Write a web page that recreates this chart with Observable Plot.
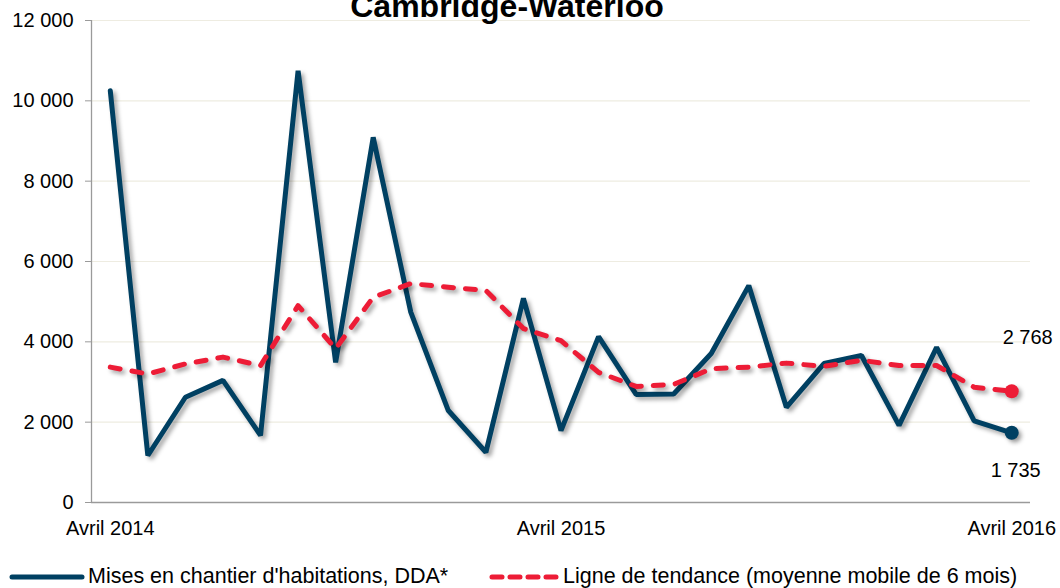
<!DOCTYPE html>
<html>
<head>
<meta charset="utf-8">
<script src="https://cdn.jsdelivr.net/npm/d3@7"></script>
<script src="https://cdn.jsdelivr.net/npm/@observablehq/plot@0.6"></script>
<style>
  body { margin: 0; background: #fff; font-family: "Liberation Sans", Arial, sans-serif; }
  #wrap { position: relative; width: 1060px; height: 588px; overflow: hidden; }
  #title { position: absolute; left: 0; top: 0; }
  #legend { position: absolute; left: 0; top: 550px; }
  svg.chart g[aria-label="line"] path, svg.chart g[aria-label="dot"] circle { filter: drop-shadow(3px 3px 2px rgba(0,0,0,0.35)); }
</style>
</head>
<body>
<div id="wrap">
  <div id="chart"></div>
  <svg id="title" width="1060" height="24"></svg>
  <svg id="legend" width="1060" height="38"></svg>
</div>
<script>
const months = [
  "Avril 2014","Mai 2014","Juin 2014","Juillet 2014","Août 2014","Septembre 2014","Octobre 2014","Novembre 2014","Décembre 2014",
  "Janvier 2015","Février 2015","Mars 2015","Avril 2015","Mai 2015","Juin 2015","Juillet 2015","Août 2015","Septembre 2015",
  "Octobre 2015","Novembre 2015","Décembre 2015","Janvier 2016","Février 2016","Mars 2016","Avril 2016"
];
const starts = [10250,1170,2620,3040,1670,10750,3490,9090,4740,2290,1250,5080,1790,4130,2690,2700,3710,5400,2370,3460,3660,1920,3860,2030,1735];
const trend  = [3370,3200,3450,3620,3410,4900,3830,5110,5450,5360,5280,4330,4030,3240,2890,2940,3330,3370,3470,3390,3540,3410,3410,2870,2768];
const xTickLabels = ["Avril 2014","Avril 2015","Avril 2016"];
const yTicks = [0,2000,4000,6000,8000,10000,12000];
const seriesNames = ["Mises en chantier d'habitations, DDA*","Ligne de tendance (moyenne mobile de 6 mois)"];
const titleText = "Cambridge-Waterloo";

const blue = "#004062";
const red = "#ED1C36";
const fmt = v => d3.format(",")(v).replace(/,/g, "\u00a0");

const rowsStarts = starts.map((v, i) => ({i, month: months[i], v}));
const rowsTrend = trend.map((v, i) => ({i, month: months[i], v}));
const last = months.length - 1;
const xTickIdx = xTickLabels.map(l => months.indexOf(l));

const plot = Plot.plot({
  width: 1060,
  height: 545,
  marginTop: 20,
  marginBottom: 43,
  marginLeft: 91,
  marginRight: 30,
  className: "chart",
  style: { fontFamily: "'Liberation Sans', Arial, sans-serif", fontSize: "20px", color: "#000", background: "#fff", overflow: "visible" },
  x: { domain: [-0.5, last + 0.5] },
  y: { domain: [0, 12000] },
  marks: [
    Plot.gridY(yTicks.slice(1), { stroke: "#EEECE1", strokeOpacity: 1, strokeWidth: 1.2 }),
    Plot.ruleY([0], { stroke: "#9a9a9a", strokeWidth: 1.3 }),
    Plot.ruleX([-0.5], { stroke: "#9a9a9a", strokeWidth: 1.3 }),
    Plot.axisY({ ticks: yTicks, tickFormat: fmt, tickSize: 6, tickPadding: 12, stroke: "#9a9a9a", label: null, fill: "#000" }),
    Plot.axisX({ ticks: xTickIdx, tickFormat: i => months[i], tickSize: 0, tickPadding: 18, label: null, fill: "#000" }),
    Plot.line(rowsStarts, { x: "i", y: "v", stroke: blue, strokeWidth: 5, strokeLinejoin: "miter", strokeLinecap: "round" }),
    Plot.line(rowsTrend, { x: "i", y: "v", stroke: red, strokeWidth: 5, strokeDasharray: "10,12", strokeLinecap: "round" }),
    Plot.dot([rowsStarts[last]], { x: "i", y: "v", r: 7, fill: blue }),
    Plot.dot([rowsTrend[last]], { x: "i", y: "v", r: 7, fill: red }),
    Plot.text([rowsTrend[last]], { x: "i", y: "v", text: d => fmt(d.v), dx: 16, dy: -54, fontSize: 20, fill: "#000" }),
    Plot.text([rowsStarts[last]], { x: "i", y: "v", text: d => fmt(d.v), dx: 4, dy: 38, fontSize: 20, fill: "#000" })
  ]
});
document.getElementById("chart").appendChild(plot);

// title (partly cut by the top edge, as in the reference)
d3.select("#title").append("text")
  .attr("x", 507).attr("y", 17).attr("text-anchor", "middle")
  .attr("font-family", "'Liberation Sans', Arial, sans-serif")
  .attr("font-weight", "bold").attr("font-size", 32).attr("fill", "#000")
  .text(titleText);

// legend
const legend = d3.select("#legend").attr("font-family", "'Liberation Sans', Arial, sans-serif");
const items = [
  { name: seriesNames[0], color: blue, dash: null, x1: 12, x2: 82, tx: 88 },
  { name: seriesNames[1], color: red, dash: "10,8", x1: 492, x2: 557, tx: 563 }
];
items.forEach(it => {
  legend.append("line").attr("x1", it.x1).attr("x2", it.x2).attr("y1", 27).attr("y2", 27)
    .attr("stroke", it.color).attr("stroke-width", 5).attr("stroke-linecap", "round")
    .attr("stroke-dasharray", it.dash);
  legend.append("text").attr("x", it.tx).attr("y", 33).attr("font-size", 21.5).attr("fill", "#000").text(it.name);
});
</script>
</body>
</html>
